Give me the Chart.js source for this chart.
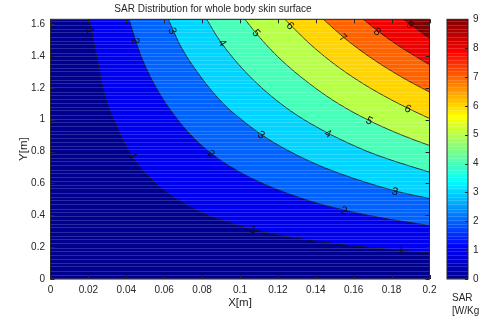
<!DOCTYPE html>
<html>
<head>
<meta charset="utf-8">
<style>
  html, body { margin: 0; padding: 0; background: #fff; }
  #wrap { position: relative; width: 479px; height: 320px; }
  #main { position: absolute; left: 0; top: 0; }
  #cbar { position: absolute; left: 440px; top: 0; }
</style>
</head>
<body>
<div id="wrap">
  <canvas id="main" width="479" height="320"></canvas>
  <canvas id="cbar" width="39" height="320"></canvas>
</div>
<script src="https://cdn.jsdelivr.net/npm/chart.js"></script>
<script>
// contour levels (SAR, W/Kg)
const levels = [0, 1, 2, 3, 4, 5, 6, 7, 8, 9];

// contour lines (x in m, y in m)
const c0x = [0, 0.2];
const c0y = [0, 0];
const c1x = [0.0205, 0.0245, 0.0288, 0.0351, 0.0409, 0.0455, 0.0525, 0.0594, 0.0683, 0.0772, 0.0894, 0.1035, 0.1211, 0.1343, 0.1519, 0.1695, 0.1853, 0.2];
const c1y = [1.63, 1.387, 1.146, 0.955, 0.812, 0.730, 0.634, 0.560, 0.488, 0.430, 0.372, 0.321, 0.274, 0.248, 0.219, 0.196, 0.179, 0.165];
const c2x = [0.0414, 0.0481, 0.0578, 0.0683, 0.0752, 0.0824, 0.0947, 0.1123, 0.1369, 0.1554, 0.1783, 0.2];
const c2y = [1.63, 1.390, 1.160, 0.983, 0.890, 0.812, 0.707, 0.598, 0.490, 0.431, 0.376, 0.336];
const c3x = [0.0622, 0.0683, 0.0789, 0.0912, 0.1035, 0.1123, 0.1229, 0.1369, 0.1519, 0.1818, 0.2];
const c3y = [1.63, 1.470, 1.275, 1.100, 0.975, 0.898, 0.822, 0.738, 0.665, 0.553, 0.505];
const c4x = [0.0824, 0.0894, 0.1035, 0.1211, 0.1369, 0.1633, 0.1801, 0.2];
const c4y = [1.63, 1.495, 1.292, 1.104, 0.978, 0.820, 0.745, 0.671];
const c5x = [0.1026, 0.1088, 0.1211, 0.1369, 0.1517, 0.1686, 0.1871, 0.2];
const c5y = [1.63, 1.538, 1.382, 1.224, 1.102, 0.992, 0.895, 0.838];
const c6x = [0.1237, 0.1281, 0.1369, 0.1519, 0.1695, 0.1880, 0.2];
const c6y = [1.63, 1.577, 1.475, 1.330, 1.193, 1.075, 1.008];
const c7x = [0.1440, 0.1554, 0.1695, 0.1871, 0.2];
const c7y = [1.63, 1.510, 1.385, 1.255, 1.174];
const c8x = [0.1651, 0.1721, 0.1853, 0.2];
const c8y = [1.63, 1.562, 1.451, 1.345];
const c9x = [0.1862, 0.1906, 0.2];
const c9y = [1.63, 1.593, 1.510];

// inline contour labels
const labelLevel = [1, 1, 1, 1, 2, 2, 2, 3, 3, 3, 4, 4, 5, 5, 6, 6, 7, 8, 9];
const labelX = [0.0208, 0.0435, 0.1069, 0.1849, 0.0446, 0.0847, 0.1549, 0.0641, 0.1111, 0.1818, 0.0905, 0.1464, 0.1084, 0.1681, 0.1264, 0.1886, 0.1543, 0.1723, 0.1897];
const labelY = [1.562, 0.772, 0.307, 0.176, 1.493, 0.784, 0.427, 1.556, 0.903, 0.546, 1.481, 0.910, 1.543, 0.991, 1.587, 1.066, 1.512, 1.550, 1.593];

// ticks
const xTickVals = [0, 0.02, 0.04, 0.06, 0.08, 0.1, 0.12, 0.14, 0.16, 0.18, 0.2];
const xTickLabels = ['0', '0.02', '0.04', '0.06', '0.08', '0.1', '0.12', '0.14', '0.16', '0.18', '0.2'];
const yTickVals = [0, 0.2, 0.4, 0.6, 0.8, 1, 1.2, 1.4, 1.6];
const yTickLabels = ['0', '0.2', '0.4', '0.6', '0.8', '1', '1.2', '1.4', '1.6'];
const cbarTickVals = [0, 1, 2, 3, 4, 5, 6, 7, 8, 9];

// jet colours of each band (level k to k+1)
const bandColors = ['#00008f', '#0000f1', '#0063ff', '#00d4ff', '#47ffb8', '#b8ff47', '#ffd400', '#ff6300', '#f10000', '#800000'];
const txt = '#262626';
// gaps between the faint scan lines seen over the image
const stripeGaps = [4, 4, 3, 5, 4, 3, 4, 5, 3, 4];

Chart.defaults.font.family = "'Liberation Sans', Arial, sans-serif";
Chart.defaults.font.size = 10;
Chart.defaults.color = txt;

const xs = [c0x, c1x, c2x, c3x, c4x, c5x, c6x, c7x, c8x, c9x];
const ys = [c0y, c1y, c2y, c3y, c4y, c5y, c6y, c7y, c8y, c9y];
const pts = levels.map((l, i) => xs[i].map((x, j) => ({ x: x, y: ys[i][j] })));

// highest level first so it is drawn on top
const datasets = levels.map((l, i) => ({
  label: String(l),
  data: pts[i],
  fill: 'end',
  backgroundColor: bandColors[i],
  borderColor: '#161616',
  borderWidth: i === 0 ? 0 : 0.8,
  pointRadius: 0,
  cubicInterpolationMode: 'monotone'
})).reverse();

function stripes(ctx, a) {
  ctx.save();
  ctx.fillStyle = 'rgba(255,255,255,0.16)';
  let yy = a.top + 2, k = 0;
  while (yy < a.bottom) {
    ctx.fillRect(a.left, Math.round(yy), a.right - a.left, 1);
    yy += stripeGaps[k % stripeGaps.length];
    k++;
  }
  ctx.restore();
}

const framePlugin = {
  id: 'frame',
  afterDatasetsDraw(chart) {
    const { ctx, chartArea: a, scales: { x, y } } = chart;
    stripes(ctx, a);
    ctx.save();
    ctx.strokeStyle = txt;
    ctx.lineWidth = 1;
    ctx.beginPath();
    xTickVals.forEach(v => {
      const px = Math.round(x.getPixelForValue(v)) + 0.5;
      ctx.moveTo(px, a.bottom); ctx.lineTo(px, a.bottom - 4);
      ctx.moveTo(px, a.top); ctx.lineTo(px, a.top + 4);
    });
    yTickVals.forEach(v => {
      const py = Math.round(y.getPixelForValue(v)) + 0.5;
      ctx.moveTo(a.left, py); ctx.lineTo(a.left + 4, py);
      ctx.moveTo(a.right, py); ctx.lineTo(a.right - 4, py);
    });
    ctx.stroke();
    ctx.strokeRect(a.left, a.top, a.right - a.left, a.bottom - a.top);

    // contour labels, turned along the line
    ctx.fillStyle = '#111';
    ctx.font = "11px 'Liberation Sans', Arial, sans-serif";
    ctx.textAlign = 'center';
    ctx.textBaseline = 'middle';
    labelLevel.forEach((lv, i) => {
      const px = x.getPixelForValue(labelX[i]);
      const py = y.getPixelForValue(labelY[i]);
      const line = pts[lv].map(p => [x.getPixelForValue(p.x), y.getPixelForValue(p.y)]);
      let best = 0, bd = Infinity;
      for (let j = 0; j < line.length - 1; j++) {
        const mx = (line[j][0] + line[j + 1][0]) / 2, my = (line[j][1] + line[j + 1][1]) / 2;
        const d = (mx - px) ** 2 + (my - py) ** 2;
        if (d < bd) { bd = d; best = j; }
      }
      const ang = Math.atan2(line[best + 1][1] - line[best][1], line[best + 1][0] - line[best][0]);
      ctx.save();
      ctx.translate(px, py);
      ctx.rotate(ang);
      ctx.fillText(String(lv), 0, 0);
      ctx.restore();
    });

    // title and colorbar caption
    ctx.font = "10px 'Liberation Sans', Arial, sans-serif";
    ctx.fillStyle = txt;
    ctx.fillText('SAR Distribution for whole body skin surface', 213, 9.5);
    ctx.textAlign = 'left';
    ctx.fillText('SAR', 452, 298.5);
    ctx.fillText('[W/Kg', 452, 311);
    ctx.restore();
  }
};

new Chart(document.getElementById('main'), {
  type: 'line',
  data: { datasets: datasets },
  options: {
    responsive: false,
    animation: false,
    devicePixelRatio: 1,
    layout: { padding: { left: 0, right: 49.5, top: 19.3, bottom: 0 } },
    plugins: { legend: { display: false }, tooltip: { enabled: false } },
    scales: {
      x: {
        type: 'linear', min: 0, max: 0.2,
        afterBuildTicks: s => { s.ticks = xTickVals.map(v => ({ value: v })); },
        afterFit: s => { s.height = 41; },
        grid: { display: false, drawTicks: false },
        border: { display: false },
        ticks: { padding: 5, maxRotation: 0, autoSkip: false, callback: (v, i) => xTickLabels[i] },
        title: { display: true, text: 'X[m]', font: { size: 11.5 }, padding: { top: 0, bottom: 10 } }
      },
      y: {
        type: 'linear', min: 0, max: 1.63,
        afterBuildTicks: s => { s.ticks = yTickVals.map(v => ({ value: v })); },
        afterFit: s => { s.width = 50.5; },
        grid: { display: false, drawTicks: false },
        border: { display: false },
        ticks: { padding: 5.5, autoSkip: false, callback: (v, i) => yTickLabels[i] },
        title: { display: true, text: 'Y[m]', font: { size: 11.5 }, padding: { top: 17, bottom: 0 } }
      }
    }
  },
  plugins: [framePlugin]
});

// colorbar
function jet(chart) {
  const a = chart.chartArea;
  if (!a) return bandColors[0];
  const g = chart.ctx.createLinearGradient(0, a.bottom, 0, a.top);
  g.addColorStop(0, '#00008f');
  g.addColorStop(0.125, '#0000ff');
  g.addColorStop(0.375, '#00ffff');
  g.addColorStop(0.625, '#ffff00');
  g.addColorStop(0.875, '#ff0000');
  g.addColorStop(1, '#800000');
  return g;
}

const cbarFrame = {
  id: 'cbarFrame',
  afterDatasetsDraw(chart) {
    const { ctx, chartArea: a, scales: { y } } = chart;
    stripes(ctx, a);
    ctx.save();
    ctx.strokeStyle = txt;
    ctx.lineWidth = 1;
    ctx.beginPath();
    cbarTickVals.forEach(v => {
      const py = Math.round(y.getPixelForValue(v)) + 0.5;
      ctx.moveTo(a.right, py); ctx.lineTo(a.right - 3, py);
    });
    ctx.stroke();
    ctx.strokeRect(a.left, a.top, a.right - a.left, a.bottom - a.top);
    ctx.restore();
  }
};

new Chart(document.getElementById('cbar'), {
  type: 'bar',
  data: {
    labels: ['SAR'],
    datasets: [{ data: [[0, 9]], backgroundColor: c => jet(c.chart), borderWidth: 0, barPercentage: 1, categoryPercentage: 1 }]
  },
  options: {
    responsive: false,
    animation: false,
    devicePixelRatio: 1,
    layout: { padding: { left: 7, right: 0, top: 19.3, bottom: 41 } },
    plugins: { legend: { display: false }, tooltip: { enabled: false } },
    scales: {
      x: { display: false },
      y: {
        position: 'right', min: 0, max: 9,
        afterBuildTicks: s => { s.ticks = cbarTickVals.map(v => ({ value: v })); },
        afterFit: s => { s.width = 11; },
        grid: { display: false, drawTicks: false },
        border: { display: false },
        ticks: { padding: 5 }
      }
    }
  },
  plugins: [cbarFrame]
});
</script>
</body>
</html>
